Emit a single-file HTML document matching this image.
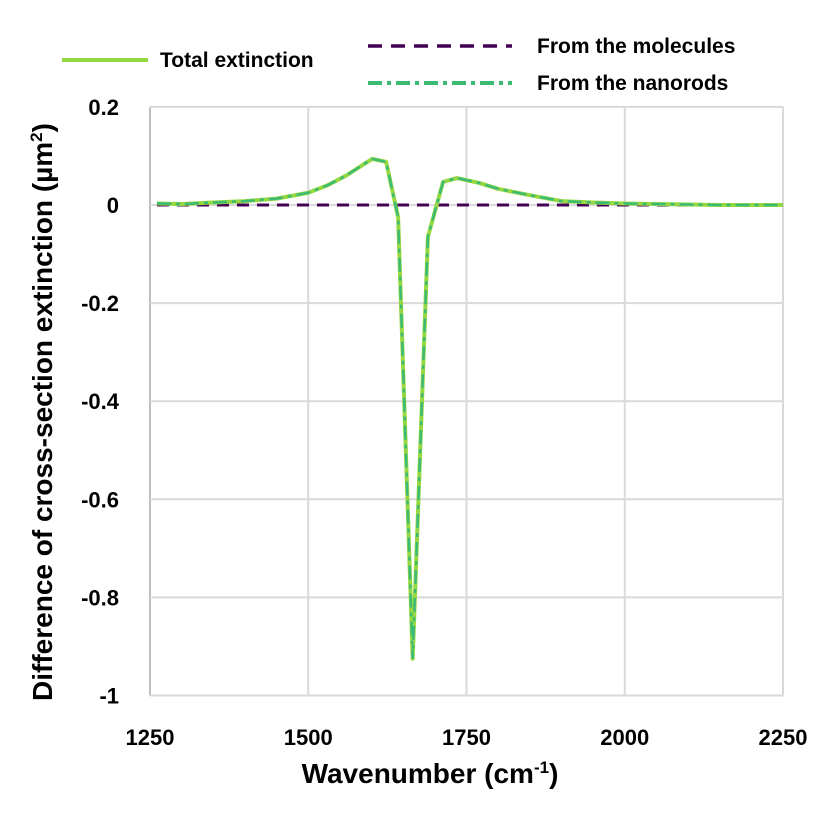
<!DOCTYPE html>
<html><head><meta charset="utf-8"><style>
body{margin:0;background:#fff;font-family:"Liberation Sans",Arial,sans-serif}
svg text{font-family:"Liberation Sans",Arial,sans-serif;font-weight:bold;fill:#000}
</style></head><body>
<svg width="833" height="810">
<g id="grid"></g><g id="marks"></g><g id="ticks"></g>
<text x="430" y="783" text-anchor="middle" font-size="28">Wavenumber (cm<tspan dy="-10" font-size="17">-1</tspan><tspan dy="10">)</tspan></text>
<text transform="translate(52,412) rotate(-90)" text-anchor="middle" font-size="28">Difference of cross-section extinction (µm<tspan dy="-10" font-size="17">2</tspan><tspan dy="10">)</tspan></text>
<g>
<line x1="62" y1="60" x2="148" y2="60" stroke="#95d840" stroke-width="4"/>
<text x="160" y="67" font-size="21">Total extinction</text>
<line x1="368" y1="46" x2="512" y2="46" stroke="#440154" stroke-width="3.5" stroke-dasharray="14,9"/>
<text x="537" y="53" font-size="21">From the molecules</text>
<line x1="368" y1="83" x2="512" y2="83" stroke="#3cbb75" stroke-width="4" stroke-dasharray="14,5,4,5"/>
<text x="537" y="90" font-size="21">From the nanorods</text>
</g>
</svg>
<script>
const xs=[1261,1300,1350,1400,1450,1500,1530,1560,1590,1601,1623,1642,1665,1689,1713,1735,1770,1800,1850,1900,1950,2000,2050,2100,2150,2250];
const totalVals=[0.003,0.002,0.005,0.008,0.013,0.025,0.04,0.06,0.085,0.094,0.088,-0.025,-0.925,-0.065,0.047,0.055,0.045,0.033,0.02,0.008,0.005,0.003,0.002,0.001,0,0];
const nanorodVals=totalVals.slice();
const molX=[1261,2250];
const molVals=[0,0];
const xTicks=[1250,1500,1750,2000,2250];
const yTicks=[0.2,0,-0.2,-0.4,-0.6,-0.8,-1];
const X=v=>150+(v-1250)*0.633, Y=v=>205-v*490.5;
const ns="http://www.w3.org/2000/svg";
function mk(p,t,a){const e=document.createElementNS(ns,t);for(const k in a)e.setAttribute(k,a[k]);p.appendChild(e);return e;}
const g=document.getElementById('grid'),m=document.getElementById('marks'),tk=document.getElementById('ticks');
xTicks.forEach(v=>{const l=mk(g,'line',{x1:X(v),x2:X(v),y1:Y(0.2),y2:Y(-1),stroke:v==1250?'#bfbfbf':'#d9d9d9','stroke-width':2});


const t=mk(tk,'text',{x:X(v),y:745,'text-anchor':'middle','font-size':22});t.textContent=v;

});
yTicks.forEach(v=>{const l=mk(g,'line',{x1:X(1250),x2:X(2250),y1:Y(v),y2:Y(v),stroke:'#d9d9d9','stroke-width':2});


const t=mk(tk,'text',{x:119,y:Y(v)+8,'text-anchor':'end','font-size':22});t.textContent=String(v);

});
const pts=(a,b)=>a.map((x,i)=>X(x)+','+Y(b[i])).join(' ');
const mol=mk(m,'polyline',{points:pts(molX,molVals),fill:'none',stroke:'#440154','stroke-width':3,'stroke-dasharray':'12,8'});


const tot=mk(m,'polyline',{points:pts(xs,totalVals),fill:'none',stroke:'#95d840','stroke-width':4,'stroke-linejoin':'round'});


const nr=mk(m,'polyline',{points:pts(xs,nanorodVals),fill:'none',stroke:'#3cbb75','stroke-width':2.5,'stroke-dasharray':'14,5,4,5'});


</script>
</body></html>
